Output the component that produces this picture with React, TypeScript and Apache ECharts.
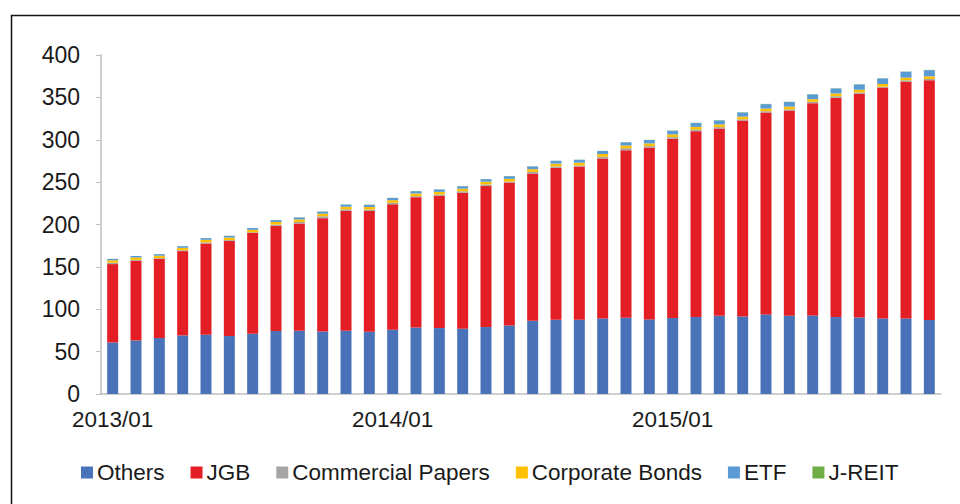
import React, { useEffect, useRef } from "react";
import * as echarts from "echarts";

const months: string[] = [];
for (const y of [2013, 2014, 2015]) {
  for (let m = 1; m <= 12; m++) months.push(`${y}/${m < 10 ? "0" + m : m}`);
}

const others = [60.8, 63.2, 66.0, 69.1, 69.9, 68.4, 71.1, 74.3, 74.6, 73.8, 74.6, 73.5, 75.8, 78.5, 77.8, 77.0, 79.0, 80.9, 86.4, 87.6, 87.6, 89.2, 90.0, 88.0, 89.6, 90.8, 92.3, 91.5, 93.9, 92.3, 92.7, 90.8, 90.3, 89.2, 89.2, 87.3];
const jgb = [92.5, 94.0, 93.6, 99.5, 107.7, 112.0, 118.8, 123.8, 126.6, 133.7, 141.5, 142.6, 148.0, 153.8, 156.0, 160.4, 166.3, 168.6, 173.7, 179.3, 180.8, 188.6, 197.7, 202.8, 211.5, 219.3, 220.9, 231.1, 238.2, 242.1, 250.5, 258.6, 263.8, 272.4, 279.1, 283.0];
const commercialPapers = [1.6, 1.0, 0.8, 1.0, 1.3, 1.2, 0.9, 1.8, 1.8, 2.2, 1.8, 1.5, 1.8, 1.2, 1.6, 1.8, 2.0, 1.2, 2.0, 1.7, 1.3, 2.1, 2.3, 1.7, 2.0, 1.9, 1.7, 1.5, 1.5, 1.5, 1.5, 2.0, 1.7, 1.0, 1.8, 1.4];
const corporateBonds = [2.9, 2.9, 2.8, 2.9, 3.0, 3.0, 2.9, 3.0, 3.0, 3.1, 3.1, 3.1, 3.1, 3.1, 3.1, 3.1, 3.2, 3.2, 3.2, 3.2, 3.2, 3.2, 3.2, 3.2, 3.2, 3.2, 3.2, 3.2, 3.2, 3.2, 3.2, 3.2, 3.2, 3.2, 3.2, 3.2];
const etf = [1.6, 1.7, 1.8, 1.9, 2.0, 2.0, 2.1, 2.2, 2.3, 2.4, 2.5, 2.5, 2.6, 2.7, 2.8, 2.9, 3.0, 3.1, 3.2, 3.3, 3.4, 3.6, 3.8, 4.0, 4.3, 4.5, 4.7, 4.9, 5.2, 5.4, 5.6, 5.9, 6.2, 6.5, 6.9, 7.2];
const jreit = [0.1, 0.1, 0.1, 0.1, 0.1, 0.1, 0.1, 0.2, 0.2, 0.2, 0.2, 0.2, 0.2, 0.2, 0.2, 0.2, 0.2, 0.2, 0.2, 0.2, 0.2, 0.2, 0.2, 0.2, 0.3, 0.3, 0.3, 0.3, 0.3, 0.3, 0.3, 0.3, 0.3, 0.3, 0.3, 0.3];

const seriesDefs = [
  { name: "Others", data: others, color: "#4a72b8" },
  { name: "JGB", data: jgb, color: "#e31e24" },
  { name: "Commercial Papers", data: commercialPapers, color: "#a5a5a5" },
  { name: "Corporate Bonds", data: corporateBonds, color: "#ffc000" },
  { name: "ETF", data: etf, color: "#5b9bd5" },
  { name: "J-REIT", data: jreit, color: "#70ad47" },
];

const FONT = "'Liberation Sans', Arial, sans-serif";

export default function App() {
  const ref = useRef<HTMLDivElement>(null);
  useEffect(() => {
    if (!ref.current) return;
    const chart = echarts.init(ref.current, null, { renderer: "svg" });
    chart.setOption({
      animation: false,
      backgroundColor: "#ffffff",
      graphic: [
        {
          type: "rect",
          left: 9,
          top: 13,
          shape: { x: 0, y: 0, width: 1000, height: 600 },
          style: { fill: "none", stroke: "#111111", lineWidth: 1.5 },
          silent: true,
        },
      ],
      grid: { left: 101, right: 19, top: 55, bottom: 110, containLabel: false },
      legend: {
        left: 81,
        top: 461,
        padding: 0,
        icon: "rect",
        itemWidth: 12,
        itemHeight: 12,
        itemGap: 26,
        textStyle: { fontFamily: FONT, fontSize: 22.5, color: "#1a1a1a", padding: [0, 0, 0, -1] },
        data: seriesDefs.map((s) => s.name),
      },
      xAxis: {
        type: "category",
        data: months,
        axisLine: { lineStyle: { color: "#bfbfbf", width: 1.5 } },
        axisTick: { show: false },
        axisLabel: {
          interval: 11,
          margin: 14,
          fontFamily: FONT,
          fontSize: 22.5,
          color: "#1a1a1a",
        },
      },
      yAxis: {
        type: "value",
        min: 0,
        max: 400,
        interval: 50,
        splitLine: { show: false },
        axisLine: { show: true, lineStyle: { color: "#bfbfbf", width: 1.5 } },
        axisTick: { show: true, length: 5, lineStyle: { color: "#bfbfbf" } },
        axisLabel: { margin: 21, fontFamily: FONT, fontSize: 23, color: "#1a1a1a" },
      },
      series: seriesDefs.map((s) => ({
        name: s.name,
        type: "bar",
        stack: "total",
        barWidth: 11,
        data: s.data,
        itemStyle: { color: s.color },
        emphasis: { disabled: true },
      })),
    });
    return () => chart.dispose();
  }, []);
  return (
    <div
      ref={ref}
      style={{ position: "fixed", left: 0, top: 0, width: 960, height: 504 }}
    />
  );
}
